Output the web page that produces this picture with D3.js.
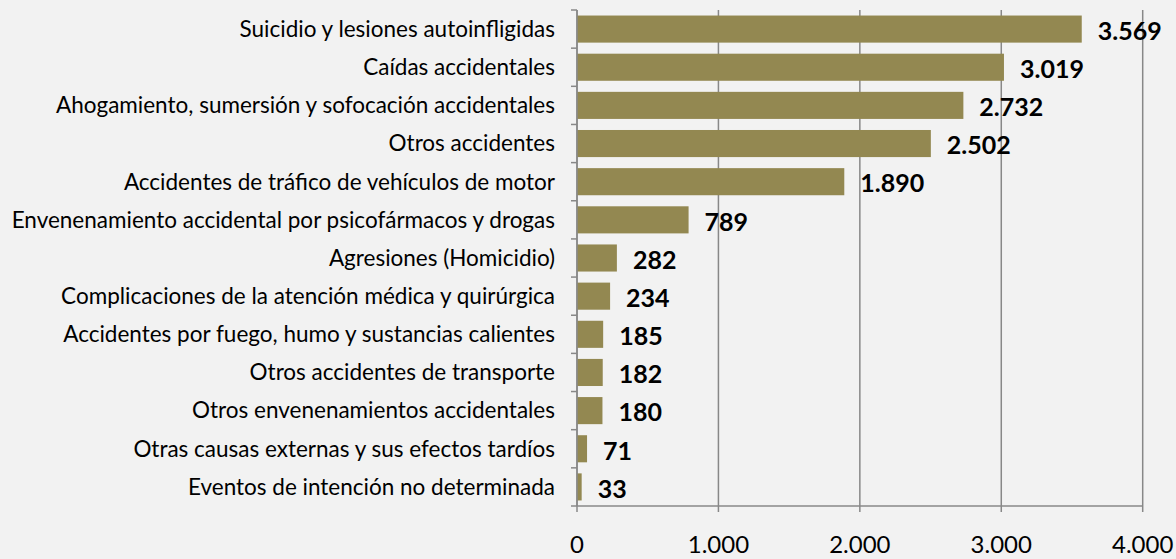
<!DOCTYPE html>
<html>
<head>
<meta charset="utf-8">
<script src="https://cdn.jsdelivr.net/npm/d3@7"></script>
<style>
  html, body { margin: 0; padding: 0; background: #f2f2f2; }
  svg { display: block; }
</style>
</head>
<body>
<div id="display"></div>
<script>
// categories, top to bottom
const causes = [
    'Suicidio y lesiones autoinfligidas',
    'Caídas accidentales',
    'Ahogamiento, sumersión y sofocación accidentales',
    'Otros accidentes',
    'Accidentes de tráfico de vehículos de motor',
    'Envenenamiento accidental por psicofármacos y drogas',
    'Agresiones (Homicidio)',
    'Complicaciones de la atención médica y quirúrgica',
    'Accidentes por fuego, humo y sustancias calientes',
    'Otros accidentes de transporte',
    'Otros envenenamientos accidentales',
    'Otras causas externas y sus efectos tardíos',
    'Eventos de intención no determinada'
];
const deaths = [3569, 3019, 2732, 2502, 1890, 789, 282, 234, 185, 182, 180, 71, 33];
const xTicks = [0, 1000, 2000, 3000, 4000];

const W = 1176, H = 559;
const margin = {top: 10, right: 33, bottom: 53, left: 577};
const width = 1142.7 - margin.left;
const height = H - margin.top - margin.bottom;

const data = causes.map((c, i) => ({cause: c, value: deaths[i]}));
const fmt = v => d3.format(',')(v).replace(/,/g, '.');

const svg = d3.select('#display')
    .append('svg')
        .attr('width', W)
        .attr('height', H)
    .append('g')
        .attr('transform', 'translate(' + margin.left + ',' + margin.top + ')');

const xScale = d3.scaleLinear()
    .domain([0, 4000])
    .range([0, width]);

const yScale = d3.scaleBand()
    .domain(causes)
    .range([0, height])
    .paddingInner(0.29)
    .paddingOuter(0.145);

const axisColor = '#888888';

// vertical gridlines (plus tick below the axis)
svg.append('g')
    .selectAll('line')
    .data(xTicks)
    .join('line')
        .attr('x1', d => xScale(d))
        .attr('x2', d => xScale(d))
        .attr('y1', 0)
        .attr('y2', height + 6)
        .attr('stroke', axisColor)
        .attr('stroke-width', 1.5);

// bottom axis line
svg.append('line')
    .attr('x1', 0).attr('x2', width)
    .attr('y1', height).attr('y2', height)
    .attr('stroke', axisColor)
    .attr('stroke-width', 1.5);

// x tick labels
svg.append('g')
    .selectAll('text')
    .data(xTicks)
    .join('text')
        .attr('x', d => xScale(d))
        .attr('y', height + 47)
        .attr('text-anchor', 'middle')
        .style('font-family', 'Lato, "Open Sans", sans-serif')
        .style('font-size', '24px')
        .style('fill', '#000')
        .text(d => fmt(d));

// bars
svg.append('g')
    .selectAll('rect')
    .data(data)
    .join('rect')
        .attr('x', 0)
        .attr('y', d => yScale(d.cause))
        .attr('width', d => xScale(d.value))
        .attr('height', yScale.bandwidth())
        .style('fill', '#938851');

// y axis line and category ticks at band boundaries
svg.append('line')
    .attr('x1', 0).attr('x2', 0)
    .attr('y1', 0).attr('y2', height)
    .attr('stroke', axisColor)
    .attr('stroke-width', 1.5);

svg.append('g')
    .selectAll('line')
    .data(d3.range(causes.length + 1))
    .join('line')
        .attr('x1', -6).attr('x2', 0)
        .attr('y1', i => i * yScale.step())
        .attr('y2', i => i * yScale.step())
        .attr('stroke', axisColor)
        .attr('stroke-width', 1.5);

// category labels
svg.append('g')
    .selectAll('text')
    .data(data)
    .join('text')
        .attr('x', -22)
        .attr('y', d => yScale(d.cause) + yScale.bandwidth() / 2)
        .attr('dy', '0.35em')
        .attr('text-anchor', 'end')
        .style('font-family', 'Lato, "Open Sans", sans-serif')
        .style('font-size', '22.5px')
        .style('fill', '#000')
        .text(d => d.cause);

// value labels
svg.append('g')
    .selectAll('text')
    .data(data)
    .join('text')
        .attr('x', d => xScale(d.value) + 16)
        .attr('y', d => yScale(d.cause) + yScale.bandwidth() / 2 + 2)
        .attr('dy', '0.35em')
        .style('font-family', 'Lato, sans-serif')
        .style('font-weight', 'bold')
        .style('font-size', '25px')
        .style('fill', '#000')
        .text(d => fmt(d.value));
</script>
</body>
</html>
